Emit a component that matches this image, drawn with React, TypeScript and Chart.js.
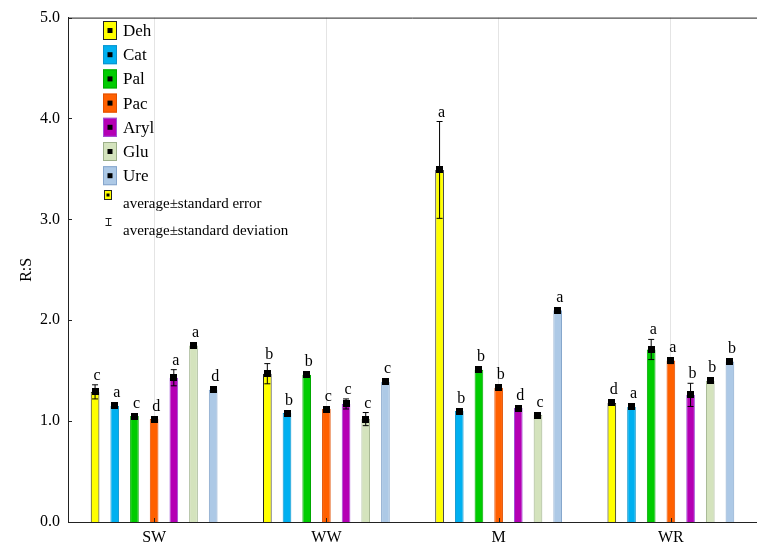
import React, { useEffect, useRef } from "react";
import { Chart, registerables } from "chart.js";

Chart.register(...registerables);

const categories = ["SW", "WW", "M", "WR"];
const seriesNames = ["Deh", "Cat", "Pal", "Pac", "Aryl", "Glu", "Ure"];

const deh = [1.29, 1.47, 3.49, 1.18];
const cat = [1.15, 1.08, 1.1, 1.14];
const pal = [1.05, 1.46, 1.51, 1.71];
const pac = [1.02, 1.12, 1.33, 1.6];
const aryl = [1.43, 1.17, 1.13, 1.26];
const glu = [1.75, 1.02, 1.06, 1.4];
const ure = [1.31, 1.39, 2.1, 1.59];

const dehErr = [0.07, 0.1, 0.48, 0.02];
const catErr = [0.02, 0.02, 0.02, 0.02];
const palErr = [0.02, 0.02, 0.02, 0.1];
const pacErr = [0.02, 0.02, 0.02, 0.03];
const arylErr = [0.08, 0.05, 0.02, 0.115];
const gluErr = [0.02, 0.065, 0.02, 0.02];
const ureErr = [0.02, 0.02, 0.02, 0.02];

const dehL = ["c", "b", "a", "d"];
const catL = ["a", "b", "b", "a"];
const palL = ["c", "b", "b", "a"];
const pacL = ["d", "c", "b", "a"];
const arylL = ["a", "c", "d", "b"];
const gluL = ["a", "c", "c", "b"];
const ureL = ["d", "c", "a", "b"];

const yTicks = [0, 1, 2, 3, 4, 5];

const fills = ["#FFFF00", "#00B0F0", "#00CC00", "#FF6000", "#B400B4", "#D4E3BD", "#ADC9E6"];
const borders = ["#222222", "#0A93CC", "#00A800", "#E05000", "#A050D8", "#9DB08A", "#86A6CC"];

const values = [deh, cat, pal, pac, aryl, glu, ure];
const errs = [dehErr, catErr, palErr, pacErr, arylErr, gluErr, ureErr];
const letters = [dehL, catL, palL, pacL, arylL, gluL, ureL];

const FONT = "'Liberation Serif', 'Times New Roman', serif";

const overlayPlugin = {
  id: "overlay",
  afterDatasetsDraw(chart: any) {
    const ctx = chart.ctx;
    const ys = chart.scales.y;
    ctx.save();
    values.forEach((vals, di) => {
      const meta = chart.getDatasetMeta(di);
      meta.data.forEach((el: any, i: number) => {
        const x = el.x;
        const v = vals[i];
        const e = errs[di][i];
        const yv = ys.getPixelForValue(v);
        const yt = ys.getPixelForValue(v + e);
        const yb = ys.getPixelForValue(v - e);
        ctx.strokeStyle = "#000";
        ctx.lineWidth = 1;
        ctx.beginPath();
        ctx.moveTo(x, yt);
        ctx.lineTo(x, yb);
        ctx.moveTo(x - 3, yt);
        ctx.lineTo(x + 3, yt);
        ctx.moveTo(x - 3, yb);
        ctx.lineTo(x + 3, yb);
        ctx.stroke();
        ctx.fillStyle = "#000";
        ctx.fillRect(Math.round(x - 3.5), Math.round(yv - 3.5), 7, 7);
        const top = Math.min(yt, yv - 3.5);
        ctx.font = "16px " + FONT;
        ctx.textAlign = "center";
        ctx.textBaseline = "alphabetic";
        ctx.fillText(letters[di][i], x + 2, top - 5);
      });
    });
    ctx.restore();
  },
  afterDraw(chart: any) {
    const ctx = chart.ctx;
    const area = chart.chartArea;
    const xs = chart.scales.x;
    const ys = chart.scales.y;
    ctx.save();
    ctx.strokeStyle = "#222";
    ctx.lineWidth = 1;
    ctx.beginPath();
    ctx.moveTo(area.left, area.top + 0.5);
    ctx.lineTo(area.right, area.top + 0.5);
    ctx.stroke();
    // inward y ticks
    ctx.beginPath();
    yTicks.forEach((t) => {
      const y = Math.round(ys.getPixelForValue(t)) + 0.5;
      ctx.moveTo(area.left, y);
      ctx.lineTo(area.left + 4, y);
    });
    // inward x ticks
    categories.forEach((_, i) => {
      const x = Math.round(xs.getPixelForValue(i)) + 0.5;
      ctx.moveTo(x, area.bottom);
      ctx.lineTo(x, area.bottom - 4);
    });
    ctx.stroke();

    // legend
    const bx = 103;
    let cy = 30.5;
    ctx.textAlign = "left";
    ctx.textBaseline = "middle";
    seriesNames.forEach((name, i) => {
      ctx.fillStyle = fills[i];
      ctx.fillRect(bx, cy - 9.5, 14, 19);
      ctx.strokeStyle = borders[i];
      ctx.lineWidth = 1;
      ctx.strokeRect(bx + 0.5, cy - 9, 13, 18);
      ctx.fillStyle = "#000";
      ctx.fillRect(bx + 4.5, cy - 2.5, 5, 5);
      ctx.font = "17px " + FONT;
      ctx.fillText(name, 123, cy + 1);
      cy += 24.2;
    });
    // standard error icon
    ctx.fillStyle = "#FFFF00";
    ctx.fillRect(104, 190, 8, 10);
    ctx.strokeStyle = "#222";
    ctx.strokeRect(104.5, 190.5, 7, 9);
    ctx.fillStyle = "#000";
    ctx.fillRect(106.5, 193.5, 3, 3);
    ctx.font = "15px " + FONT;
    ctx.fillText("average\u00B1standard error", 123, 204);
    // standard deviation icon
    ctx.beginPath();
    ctx.moveTo(108.5, 218);
    ctx.lineTo(108.5, 226);
    ctx.moveTo(105.5, 218.5);
    ctx.lineTo(111.5, 218.5);
    ctx.moveTo(105.5, 225.5);
    ctx.lineTo(111.5, 225.5);
    ctx.stroke();
    ctx.fillText("average\u00B1standard deviation", 123, 231);
    ctx.restore();
  },
};

export default function App() {
  const ref = useRef<HTMLCanvasElement | null>(null);
  useEffect(() => {
    if (!ref.current) return;
    const chart = new Chart(ref.current, {
      type: "bar",
      data: {
        labels: categories,
        datasets: seriesNames.map((name, i) => ({
          label: name,
          data: values[i],
          backgroundColor: fills[i],
          borderColor: borders[i],
          borderWidth: 1,
          categoryPercentage: 0.8,
          barPercentage: 0.44,
        })),
      },
      options: {
        responsive: false,
        animation: false,
        devicePixelRatio: 1,
        layout: { padding: { top: 15, right: 0, left: 0, bottom: 0 } },
        plugins: { legend: { display: false }, tooltip: { enabled: false } },
        scales: {
          x: {
            grid: { display: true, offset: false, color: "#e4e4e4", drawTicks: false },
            border: { display: true, color: "#222", width: 1 },
            ticks: { color: "#000", font: { family: FONT, size: 16 }, padding: 6 },
            afterFit: (s: any) => {
              s.height = 35;
            },
          },
          y: {
            min: 0,
            max: 5,
            grid: { display: false, drawTicks: false },
            border: { display: true, color: "#222", width: 1 },
            ticks: {
              stepSize: 1,
              color: "#000",
              font: { family: FONT, size: 16 },
              padding: 8,
              callback: (v: any) => Number(v).toFixed(1),
            },
            title: {
              display: true,
              text: "R:S",
              color: "#000",
              font: { family: FONT, size: 16 },
              padding: { top: 17, bottom: 0 },
            },
            afterFit: (s: any) => {
              s.width = 68;
            },
          },
        },
      },
      plugins: [overlayPlugin],
    });
    return () => chart.destroy();
  }, []);
  return (
    <div style={{ position: "absolute", left: 0, top: 0, width: 757, height: 557 }}>
      <canvas ref={ref} width={757} height={557} />
    </div>
  );
}
